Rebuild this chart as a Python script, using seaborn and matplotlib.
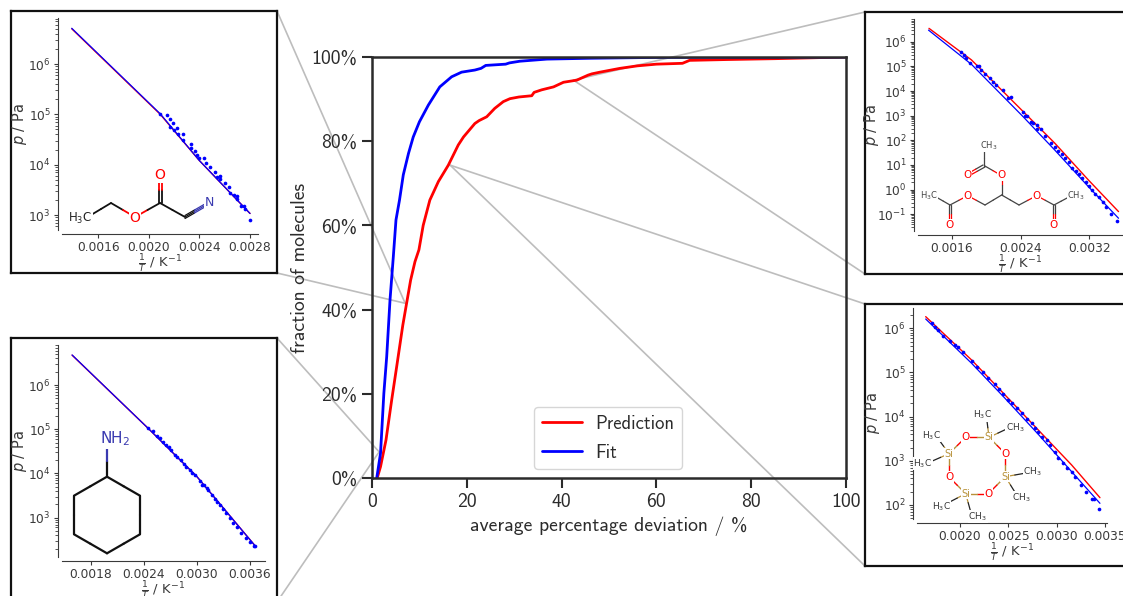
import numpy as np
import pandas as pd
import matplotlib
matplotlib.use("Agg")
import matplotlib.pyplot as plt
from matplotlib.patches import ConnectionPatch
from matplotlib.ticker import LogLocator, NullFormatter
import seaborn as sns

W, H = 1123, 596
MAIN_FONT = "cmss10"
GREY = "#bdbdbd"
DARK = "#3a3a3a"
INK = "#2b2b2b"
RED = "#ff0000"
BLUE = "#0000ff"
N_BLUE = "#3a3ab0"
SI = "#b8923a"

# main chart: cumulative fraction of molecules vs. deviation
pred_x = [1.1, 1.8, 2.95, 4.15, 5.2, 6.5, 7.3, 8.15, 9.07, 9.9, 10.8, 12.2, 14.0, 16.1, 18.2, 19.3,
          21.7, 22.6, 24.2, 25.9, 27.7, 29.1, 31.0, 33.7, 34.2, 35.8, 38.3, 40.4, 43.2, 45.6, 46.4, 48.1,
          52.3, 56.0, 60.0, 65.5, 67.0, 75.0, 85.0, 100.0]
pred_y = [0.0, 2.7, 9.0, 18.5, 26.4, 36.3, 41.5, 47.0, 51.4, 54.2, 60.0, 66.0, 70.4, 74.3, 79.1, 81.0,
          84.2, 84.9, 85.8, 87.8, 89.4, 90.1, 90.5, 90.8, 91.6, 92.2, 92.9, 94.0, 94.5, 95.7, 96.0, 96.4,
          97.3, 97.9, 98.3, 98.5, 99.2, 99.4, 99.6, 100.0]
fit_x = [1.0, 1.8, 2.5, 3.1, 3.8, 4.5, 5.06, 5.8, 6.6, 7.7, 8.7, 10.0, 11.9, 14.3, 16.8, 18.9, 21.7,
         23.0, 24.0, 28.2, 29.0, 31.2, 36.9, 46.0, 60.0, 100.0]
fit_y = [0.0, 5.9, 20.1, 28.8, 42.3, 52.6, 61.3, 66.0, 72.0, 77.1, 81.0, 84.6, 88.6, 92.9, 95.3, 96.4,
         96.9, 97.3, 98.0, 98.3, 98.6, 99.0, 99.5, 99.7, 99.9, 100.0]
main_xticks = [0, 20, 40, 60, 80, 100]
main_yticks = [0, 20, 40, 60, 80, 100]
main_ylabels = ["0%", "20%", "40%", "60%", "80%", "100%"]

# inset A: ethyl cyanoacetate
a_line_x = [0.00139, 0.00209, 0.00240, 0.00280]
a_pred_logp = [6.70, 5.00, 4.08, 3.03]
a_fit_logp = [6.71, 5.01, 4.08, 3.03]
a_dots_x = [0.00209, 0.00214, 0.002167, 0.00219, 0.00217, 0.002225, 0.0022, 0.002267, 0.00223, 0.00227,
            0.00233, 0.00233, 0.002365, 0.00238, 0.0024, 0.002436, 0.00245, 0.00248, 0.00252, 0.00254,
            0.00256, 0.00256, 0.0026, 0.00263, 0.00264, 0.00267, 0.0027, 0.0027, 0.00273, 0.00275,
            0.00276, 0.0028]
a_dots_logp = [5.007, 4.98, 4.914, 4.82, 4.755, 4.73, 4.69, 4.61, 4.6, 4.5, 4.42, 4.34, 4.28, 4.19, 4.14,
               4.13, 4.03, 3.96, 3.86, 3.76, 3.78, 3.72, 3.63, 3.55, 3.44, 3.4, 3.38, 3.31, 3.17, 3.18,
               3.11, 2.9]

# inset B: cyclohexylamine
b_line_x = [0.00159, 0.00245, 0.0030, 0.00366]
b_pred_logp = [6.675, 5.02, 3.93, 2.36]
b_fit_logp = [6.68, 5.02, 3.93, 2.36]
b_dots_x = [0.00245, 0.0025, 0.00255, 0.00258, 0.00262, 0.00265, 0.00268, 0.00271, 0.00275, 0.00278,
            0.00282, 0.00285, 0.00288, 0.00292, 0.00295, 0.00298, 0.00303, 0.00306, 0.00308, 0.00311,
            0.00313, 0.00317, 0.0032, 0.00323, 0.00326, 0.00329, 0.00333, 0.00337, 0.00341, 0.00345,
            0.0035, 0.00355, 0.0036, 0.00365, 0.00366]
b_dots_logp = [5.03, 4.96, 4.85, 4.8, 4.72, 4.65, 4.6, 4.52, 4.42, 4.37, 4.3, 4.22, 4.15, 4.07, 4.02,
               3.97, 3.84, 3.75, 3.74, 3.68, 3.62, 3.52, 3.42, 3.35, 3.28, 3.2, 3.1, 3.0, 2.88, 2.78,
               2.65, 2.53, 2.45, 2.35, 2.36]

# inset C: triacetin
c_pred_x = [0.001336, 0.00183, 0.002433, 0.0028, 0.00319, 0.00354]
c_pred_logp = [6.54, 5.26, 3.16, 1.88, 0.39, -0.89]
c_fit_x = [0.00133, 0.00183, 0.00243, 0.0028, 0.00319, 0.00354]
c_fit_logp = [6.47, 5.08, 2.96, 1.6, 0.12, -1.16]
c_dots_x = [0.00171, 0.00174, 0.00177, 0.00181, 0.00189, 0.00192, 0.00194, 0.00199, 0.00204, 0.00208,
            0.00212, 0.0022, 0.00225, 0.00229, 0.00243, 0.00245, 0.00248, 0.00252, 0.00255, 0.00259,
            0.00259, 0.00264, 0.00269, 0.00276, 0.0028, 0.00284, 0.00288, 0.00292, 0.00296, 0.003,
            0.00304, 0.00308, 0.00312, 0.00316, 0.0032, 0.00323, 0.00327, 0.00331, 0.00336, 0.0034,
            0.00345, 0.00352]
c_dots_logp = [5.59, 5.46, 5.32, 5.15, 5.0, 5.01, 4.85, 4.69, 4.51, 4.38, 4.24, 4.03, 3.73, 3.74, 3.14,
               2.99, 2.97, 2.73, 2.69, 2.61, 2.46, 2.46, 2.16, 1.88, 1.74, 1.58, 1.43, 1.27, 1.11, 0.89,
               0.76, 0.62, 0.49, 0.32, 0.16, -0.01, -0.18, -0.31, -0.49, -0.72, -1.0, -1.27]

# inset D: octamethylcyclotetrasiloxane
d_line_x = [0.001645, 0.00212, 0.002466, 0.00281, 0.003155, 0.003448]
d_pred_logp = [6.264, 5.283, 4.491, 3.698, 2.906, 2.166]
d_fit_logp = [6.211, 5.208, 4.415, 3.6, 2.755, 2.038]
d_dots_x = [0.001707, 0.001741, 0.001776, 0.001828, 0.001897, 0.001948, 0.001983, 0.002034, 0.002121,
            0.002172, 0.002241, 0.002293, 0.002362, 0.002403, 0.002448, 0.0025, 0.002534, 0.002586,
            0.002638, 0.00269, 0.002741, 0.002776, 0.00281, 0.002845, 0.002897, 0.002931, 0.002983,
            0.003017, 0.003069, 0.003103, 0.003155, 0.00319, 0.003252, 0.0033, 0.003362, 0.003386,
            0.003441]
d_dots_logp = [6.113, 6.038, 5.962, 5.834, 5.713, 5.623, 5.57, 5.457, 5.26, 5.132, 5.019, 4.868, 4.732,
               4.619, 4.506, 4.377, 4.302, 4.189, 4.075, 3.947, 3.849, 3.736, 3.66, 3.547, 3.472, 3.358,
               3.208, 3.057, 2.943, 2.83, 2.755, 2.642, 2.453, 2.302, 2.136, 2.136, 1.909]

sns.set_style("ticks")
plt.rcParams["axes.unicode_minus"] = False
plt.rcParams["font.family"] = ["DejaVu Sans"]
fig = plt.figure(figsize=(W / 100, H / 100), dpi=100)


def px_axes(left, top, right, bottom):
    return fig.add_axes([left / W, 1 - bottom / H, (right - left) / W, (bottom - top) / H])


# main axes
ax = px_axes(372, 57, 846, 478)
ax.patch.set_visible(False)
curves = pd.concat([
    pd.DataFrame({"dev": pred_x, "frac": pred_y, "kind": "Prediction"}),
    pd.DataFrame({"dev": fit_x, "frac": fit_y, "kind": "Fit"}),
])
sns.lineplot(data=curves, x="dev", y="frac", hue="kind", palette={"Prediction": RED, "Fit": BLUE},
             estimator=None, sort=False, lw=2, ax=ax)
ax.set_xlim(0, 100)
ax.set_ylim(0, 100)
ax.set_xticks(main_xticks)
ax.set_xticklabels([str(v) for v in main_xticks], family=MAIN_FONT, fontsize=14.2)
ax.set_yticks(main_yticks)
ax.set_yticklabels(main_ylabels, family=MAIN_FONT, fontsize=14.2)
ax.set_xlabel("average percentage deviation / %", family=MAIN_FONT, fontsize=14.2, labelpad=4.5, color=INK)
ax.set_ylabel("fraction of molecules", family=MAIN_FONT, fontsize=14.2, labelpad=2, color=INK)
ax.tick_params(length=7, width=1.5, color=INK, labelcolor=INK, pad=3.5)
for s in ax.spines.values():
    s.set_linewidth(1.8)
    s.set_color(INK)
handles, labels = ax.get_legend_handles_labels()
ax.legend(handles, labels, loc="lower left", bbox_to_anchor=(0.342, 0.021), borderaxespad=0,
          prop={"family": MAIN_FONT, "size": 13.4}, labelspacing=0.6, handlelength=2.2, handletextpad=0.7,
          frameon=True, labelcolor=INK)


def inset(box, area, line_pred, line_fit, dots, xlim, ylim, xticks, label_px):
    # outer black frame, then the actual axes with offset spines
    frame = px_axes(*box)
    frame.set_xticks([])
    frame.set_yticks([])
    frame.set_facecolor("white")
    for s in frame.spines.values():
        s.set_linewidth(1.6)
        s.set_color("#111111")
    a = px_axes(*area)
    a.patch.set_visible(False)
    sns.lineplot(x=line_pred[0], y=10.0 ** np.array(line_pred[1]), color=RED, lw=1, estimator=None, sort=False, ax=a)
    sns.lineplot(x=line_fit[0], y=10.0 ** np.array(line_fit[1]), color=BLUE, lw=0.9, estimator=None, sort=False, ax=a)
    sns.scatterplot(x=dots[0], y=10.0 ** np.array(dots[1]), color=BLUE, s=7, linewidth=0, ax=a, clip_on=False, zorder=3)
    a.set_yscale("log")
    a.set_xlim(*xlim)
    a.set_ylim(10.0 ** ylim[0], 10.0 ** ylim[1])
    a.set_xticks(xticks)
    a.set_xticklabels([f"{v:.4f}" for v in xticks])
    a.yaxis.set_major_locator(LogLocator(base=10, numticks=12))
    a.yaxis.set_minor_locator(LogLocator(base=10, subs=np.arange(2, 10), numticks=12))
    a.yaxis.set_minor_formatter(NullFormatter())
    a.tick_params(axis="both", which="major", labelsize=8.8, length=3, width=0.8, color=DARK, labelcolor=DARK, pad=2)
    a.tick_params(axis="y", which="minor", length=2, width=0.6, color=DARK)
    a.set_xlabel(r"$\frac{1}{T}$ / K$^{-1}$", fontsize=9.5, color=DARK, labelpad=-1)
    a.set_ylabel(r"$p$ / Pa", fontsize=10.5, color=DARK)
    a.yaxis.set_label_coords((label_px - area[0]) / (area[2] - area[0]), 0.5)
    sns.despine(ax=a, offset=3)
    for side in ["left", "bottom"]:
        a.spines[side].set_linewidth(0.8)
        a.spines[side].set_color(DARK)
    return frame


frame_a = inset((11, 11, 277, 273), (62, 18, 258, 230), (a_line_x, a_pred_logp), (a_line_x, a_fit_logp),
                (a_dots_x, a_dots_logp), (0.001313, 0.002863), (2.702, 6.914), [0.0016, 0.0020, 0.0024, 0.0028], 29)
frame_b = inset((11, 338, 277, 602), (62, 345, 265, 557), (b_line_x, b_pred_logp), (b_line_x, b_fit_logp),
                (b_dots_x, b_dots_logp), (0.001476, 0.00377), (2.111, 6.905), [0.0018, 0.0024, 0.0030, 0.0036], 29)
frame_c = inset((865, 12, 1130, 274), (918, 19, 1123, 231), (c_pred_x, c_pred_logp), (c_fit_x, c_fit_logp),
                (c_dots_x, c_dots_logp), (0.001208, 0.003592), (-1.677, 6.92), [0.0016, 0.0024, 0.0032], 881)
frame_d = inset((865, 304, 1130, 566), (917, 308, 1107, 519), (d_line_x, d_pred_logp), (d_line_x, d_fit_logp),
                (d_dots_x, d_dots_logp), (0.001555, 0.003521), (1.683, 6.46), [0.0020, 0.0025, 0.0030, 0.0035], 882)

# grey connector lines from a curve point to the frame corners
links = [(frame_a, (7.0, 41.5), [(1, 1), (1, 0)]),
         (frame_b, (1.5, 6.2), [(1, 1), (1, 0)]),
         (frame_c, (42.5, 94.5), [(0, 1), (0, 0)]),
         (frame_d, (16.5, 74.3), [(0, 1), (0, 0)])]
for frame, point, corners in links:
    for corner in corners:
        con = ConnectionPatch(xyA=point, coordsA=ax.transData, xyB=corner, coordsB=frame.transAxes,
                              color=GREY, lw=1.2, zorder=-1)
        fig.add_artist(con)

# overlay in pixel units for the molecule sketches
mol = fig.add_axes([0, 0, 1, 1])
mol.set_xlim(0, W)
mol.set_ylim(H, 0)
mol.axis("off")


def bond(p, q, c1="#111111", c2=None, lw=1.3):
    c2 = c2 or c1
    mx, my = (p[0] + q[0]) / 2, (p[1] + q[1]) / 2
    mol.plot([p[0], mx], [p[1], my], color=c1, lw=lw, solid_capstyle="round")
    mol.plot([mx, q[0]], [my, q[1]], color=c2, lw=lw, solid_capstyle="round")


def label(x, y, s, c="#222222", size=9):
    mol.text(x, y, s, color=c, fontsize=size, ha="center", va="center", family="DejaVu Sans",
             bbox=dict(fc="white", ec="none", pad=0.4))


# ethyl cyanoacetate
K = "#111111"
bond((91, 215), (111, 203))
bond((111, 203), (135, 217), K, RED)
bond((135, 217), (160, 203), RED, K)
bond((160, 203), (185, 217))
bond((158.5, 203), (158.5, 176), K, RED)
bond((161.5, 203), (161.5, 176), K, RED)
for d in (-1.5, 0, 1.5):
    bond((185, 217 + d), (204, 206 + d), K, N_BLUE, lw=0.9)
label(80, 218, "H$_3$C", size=8.5)
label(135, 218, "O", RED, 10)
label(160, 175, "O", RED, 10)
label(209, 203, "N", N_BLUE, 9)

# cyclohexylamine
ring = [(107, 476.7), (140, 495.7), (140, 534.3), (107, 553.3), (74, 534.3), (74, 495.7)]
for i in range(6):
    bond(ring[i], ring[(i + 1) % 6], lw=1.6)
bond((107, 476.7), (107, 445), K, N_BLUE, lw=1.6)
label(115, 439, "NH$_2$", N_BLUE, 11)


# triacetin, zoomed pixel coordinates
def z3(x, y):
    return (855 + x / 3, 5 + y / 3)


G = "#444444"
for p, q, c1, c2 in [((388, 433), (388, 482), G, G), ((388, 482), (440, 512), G, RED),
                     ((384, 480), (340, 505), G, RED), ((390, 486), (343, 512), G, RED),
                     ((440, 512), (440, 570), RED, G), ((440, 570), (390, 600), G, G),
                     ((390, 600), (338, 572), G, RED), ((338, 572), (285, 600), RED, G),
                     ((282, 600), (282, 655), G, RED), ((288, 600), (288, 655), G, RED),
                     ((285, 600), (245, 577), G, G), ((440, 570), (492, 600), G, G),
                     ((492, 600), (545, 572), G, RED), ((545, 572), (597, 600), RED, G),
                     ((594, 600), (594, 655), G, RED), ((600, 600), (600, 655), G, RED),
                     ((597, 600), (640, 577), G, G)]:
    bond(z3(*p), z3(*q), c1, c2, lw=0.9)
for x, y, s, c in [(402, 422, "CH$_3$", G), (337, 510, "O", RED), (440, 510, "O", RED), (338, 572, "O", RED),
                   (545, 572, "O", RED), (285, 660, "O", RED), (597, 660, "O", RED),
                   (222, 572, "H$_3$C", G), (663, 572, "CH$_3$", G)]:
    label(*z3(x, y), s, c, 6 if "$" in s else 7.5)


# D4 siloxane, zoomed pixel coordinates
def z4(x, y):
    return (855 + x / 3, 295 + y / 3)


si_atoms = [(402, 427), (451, 545), (332, 596), (282, 476)]
o_atoms = [(451, 476), (400, 596), (282, 546), (332, 427)]
for i in range(4):
    bond(z4(*si_atoms[i]), z4(*o_atoms[i]), SI, RED, lw=1)
    bond(z4(*o_atoms[i]), z4(*si_atoms[(i + 1) % 4]), RED, SI, lw=1)
for si, end in [((402, 427), (395, 370)), ((402, 427), (455, 402)), ((451, 545), (508, 535)), ((451, 545), (482, 595)),
                ((332, 596), (282, 622)), ((332, 596), (347, 650)), ((282, 476), (250, 432)), ((282, 476), (232, 498))]:
    bond(z4(*si), z4(*end), SI, "#222222", lw=0.9)
for x, y in si_atoms:
    label(*z4(x, y), "Si", SI, 7)
for x, y in o_atoms:
    label(*z4(x, y), "O", RED, 7.5)
for x, y, s in [(382, 360, "H$_3$C"), (480, 398, "CH$_3$"), (533, 531, "CH$_3$"), (500, 607, "CH$_3$"),
                (258, 635, "H$_3$C"), (368, 665, "CH$_3$"), (228, 421, "H$_3$C"), (203, 505, "H$_3$C")]:
    label(*z4(x, y), s, "#333333", 6.5)

fig.savefig("out.png", dpi=100)
